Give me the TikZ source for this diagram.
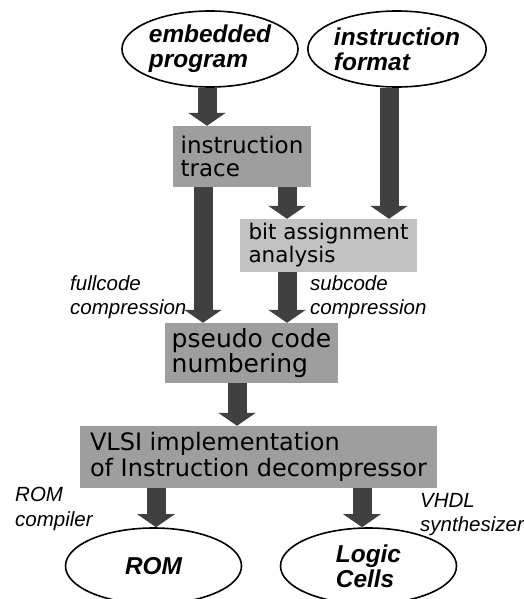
\documentclass[tikz,border=0pt]{standalone}
\usepackage{fontspec}
\setmainfont{Liberation Sans}
\newfontfamily\boxfont{DejaVu Sans}
\usetikzlibrary{shapes.geometric,arrows.meta}

\tikzset{
  source/.style={ellipse, draw, line width=1.6pt, minimum width=176pt, minimum height=76pt,
    inner sep=0pt, align=left, font=\fontsize{24.4}{25}\selectfont\bfseries\itshape},
  stage/.style={rectangle, fill=black!38, inner sep=0pt, align=left},
  flow/.style={-{Triangle[width=37pt,length=13pt]}, line width=19pt, draw=black!75},
  note/.style={anchor=north west, inner sep=0pt, align=left,
    font=\fontsize{20.5}{24.5}\selectfont\itshape}
}

\begin{document}
\begin{tikzpicture}[x=1pt,y=-1pt]
    \useasboundingbox (0,0) rectangle (524,599);

    % ellissi
    \node[source] (emb) at (210,49) {embedded\\program};
    \node[source] (fmt) at (397,49) {instruction\\format};
    \node[source] (rom) at (153.5,566) {ROM};
    \node[source] (logic) at (368.5,566) {Logic\\Cells};

    % blocchi
    \node[stage, minimum width=138pt, minimum height=61pt,
      font=\boxfont\fontsize{23}{22.5}\selectfont] (trace) at (242,156.5) {instruction\\trace};
    \node[stage, fill=black!24, minimum width=177pt, minimum height=53pt,
      font=\boxfont\fontsize{21.5}{23}\selectfont] (bit) at (328.5,245.5) {bit assignment\\analysis};
    \node[stage, minimum width=173pt, minimum height=60pt,
      font=\boxfont\fontsize{25}{24}\selectfont] (pseudo) at (251.5,353) {pseudo code\\numbering};
    \node[stage, minimum width=357pt, minimum height=62pt,
      font=\boxfont\fontsize{24}{26.5}\selectfont] (vlsi) at (258.5,457) {VLSI implementation\\of Instruction decompressor};

    % frecce
    \draw[flow] ([xshift=-3pt]emb.south) -- ([xshift=-3pt]emb.south |- trace.north);
    \draw[flow] ([xshift=-8pt]fmt.south) -- ([xshift=-8pt]fmt.south |- bit.north);
    \draw[flow] ([xshift=45pt]trace.south) -- ([xshift=45pt]trace.south |- bit.north);
    \draw[flow] ([xshift=-39pt]trace.south) -- ([xshift=-39pt]trace.south |- pseudo.north);
    \draw[flow] ([xshift=-41.5pt]bit.south) -- ([xshift=-41.5pt]bit.south |- pseudo.north);
    \draw[flow] ([xshift=-14.5pt]pseudo.south) -- ([xshift=-14.5pt]pseudo.south |- vlsi.north);
    \draw[flow] ([xshift=2.5pt]rom.north |- vlsi.south) -- ([xshift=2.5pt]rom.north);
    \draw[flow] ([xshift=-6.5pt]logic.north |- vlsi.south) -- ([xshift=-6.5pt]logic.north);

    % etichette
    \node[note] (full) at (70,275) {fullcode\\compression};
    \node[note] (sub) at (310,275) {subcode\\compression};
    \node[note] (romc) at (15,487) {ROM\\compiler};
    \node[note] (vhdl) at (420,493) {VHDL\\synthesizer};
\end{tikzpicture}
\end{document}
